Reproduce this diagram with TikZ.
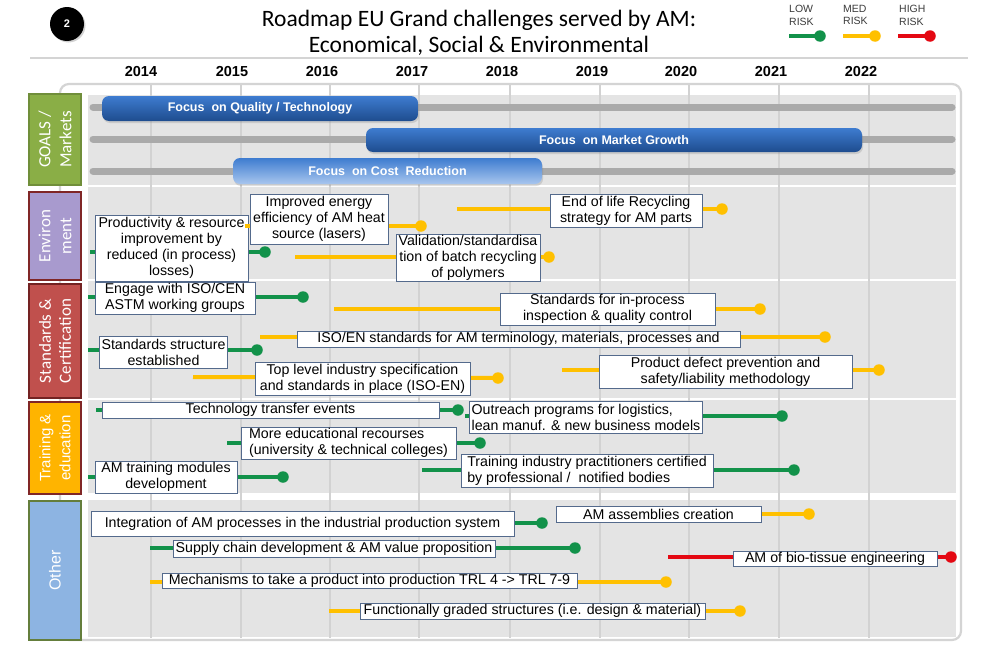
\documentclass[tikz,border=0pt]{standalone}
\usepackage{fontspec}
\setmainfont{Liberation Sans}
\newfontfamily\calf{Carlito}
\usetikzlibrary{shadows}
\definecolor{greenc}{RGB}{18,146,74}
\definecolor{yellowc}{RGB}{255,192,0}
\definecolor{redc}{RGB}{228,8,18}
\definecolor{boxc}{RGB}{84,106,140}
\definecolor{panelc}{RGB}{228,228,228}
\definecolor{gridc}{RGB}{210,210,210}
\definecolor{trackc}{RGB}{170,170,170}
\definecolor{outerc}{RGB}{212,212,212}
\definecolor{goalsf}{RGB}{138,174,70}
\definecolor{goalsd}{RGB}{112,142,58}
\definecolor{envf}{RGB}{168,154,206}
\definecolor{stdf}{RGB}{192,80,77}
\definecolor{trf}{RGB}{255,180,0}
\definecolor{othf}{RGB}{141,180,226}
\definecolor{othd}{RGB}{100,126,60}
\definecolor{darkred}{RGB}{128,38,38}
\definecolor{barA}{RGB}{62,124,208}
\definecolor{barB}{RGB}{30,76,142}
\definecolor{barC}{RGB}{168,198,238}
\definecolor{legtext}{RGB}{60,60,60}
\newcommand\rmtfont{\fontsize{14.2}{16}\selectfont}
\begin{document}
\begin{tikzpicture}[x=1pt,y=-1pt,
  tbox/.style={draw=boxc,line width=0.8pt,fill=white,inner xsep=2pt,inner ysep=0pt,font=\rmtfont,align=center},
  dot/.style={circle,fill=#1,inner sep=0pt,minimum size=11.5pt},
  conn/.style={draw=#1,line width=4pt},
  track/.style={draw=trackc,line width=7pt,line cap=round},
  goalbar/.style={rounded corners=7pt,draw=none,inner sep=0pt,text=white,
    font=\bfseries\fontsize{12.5}{14}\selectfont,
    drop shadow={opacity=0.25,shadow xshift=1pt,shadow yshift=-2pt}},
  seclab/.style={rotate=90,line width=1.8pt,inner sep=0pt,text=white,align=center,minimum height=52pt},
  yearlab/.style={font=\bfseries\fontsize{14.5}{16}\selectfont},
  legt/.style={font=\fontsize{10.5}{12.5}\selectfont,text=legtext,align=left,anchor=north west,inner sep=0pt}
]
\useasboundingbox (0,0) rectangle (992,653);
\fill[white] (0,0) rectangle (992,653);

% number badge
\node[circle,fill=black,minimum size=34pt,inner sep=0pt,
  drop shadow={opacity=0.35,shadow xshift=1.5pt,shadow yshift=-1.5pt},
  font=\bfseries\fontsize{11}{12}\selectfont,text=white] (num) at (67,24) {2};

% title
\node[font=\calf\fontsize{23.5}{26}\selectfont,align=center] (title) at (479,33)
  {Roadmap EU Grand challenges served by AM:\\Economical, Social \& Environmental};

% legend
\node[legt] (lowt) at (789,5) {LOW\\RISK};
\node[legt] (medt) at (843,5) {MED\\RISK};
\node[legt] (hight) at (899,5) {HIGH\\RISK};
\coordinate (lg1) at (789,36); \node[dot=greenc] (lg1d) at (820,36) {};
\draw[conn=greenc] (lg1) -- (lg1d.center);
\coordinate (lg2) at (843,36); \node[dot=yellowc] (lg2d) at (875,36) {};
\draw[conn=yellowc] (lg2) -- (lg2d.center);
\coordinate (lg3) at (898,36); \node[dot=redc] (lg3d) at (930,36) {};
\draw[conn=redc] (lg3) -- (lg3d.center);

% header rule
\draw[draw=outerc,line width=1.5pt] (30,58) -- (968,58);

% years
\foreach \xx/\yr in {141/2014,232/2015,322/2016,412/2017,502/2018,592/2019,681/2020,771/2021,861/2022}
  \node[yearlab] (yr\yr) at (\xx,72) {\yr};

% outer frame
\draw[draw=outerc,line width=2.2pt,rounded corners=9pt,fill=white] (60,84) rectangle (961,640);

% panels
\fill[panelc] (88,95) rectangle (956,185);
\fill[panelc] (88,187) rectangle (956,279);
\fill[panelc] (88,281) rectangle (956,398);
\fill[panelc] (88,400) rectangle (956,493);
\fill[panelc] (88,500) rectangle (956,637);

% grid
\foreach \xx in {151,241,330,419,510,600,689,779,869}
  \draw[draw=gridc,line width=1.8pt] (\xx,85) -- (\xx,638);

% section labels
\node[seclab,fill=goalsf,draw=goalsd,minimum width=91pt,font=\calf\fontsize{17}{21}\selectfont] (lgoals) at (55,139.5) {GOALS /\\Markets};
\node[seclab,fill=envf,draw=darkred,minimum width=88pt,font=\calf\fontsize{17}{21}\selectfont] (lenv) at (55,236) {Environ\\ment};
\node[seclab,fill=stdf,draw=darkred!90!black,minimum width=114pt,font=\calf\fontsize{17}{20}\selectfont] (lstd) at (55,341) {Standards \&\\Certification};
\node[seclab,fill=trf,draw=darkred,minimum width=92pt,font=\fontsize{15}{20}\selectfont] (ltr) at (55,448) {Training \&\\education};
\node[seclab,fill=othf,draw=othd,minimum width=139pt,font=\fontsize{16}{20}\selectfont] (loth) at (55,570.5) {Other};

% goal tracks
\coordinate (tk1s) at (93,107); \coordinate (tk1e) at (952,107);
\coordinate (tk2s) at (93,139); \coordinate (tk2e) at (952,139);
\coordinate (tk3s) at (93,171); \coordinate (tk3e) at (952,171);
\draw[track] (tk1s) -- (tk1e);
\draw[track] (tk2s) -- (tk2e);
\draw[track] (tk3s) -- (tk3e);

% goal bars
\node[goalbar,top color=barA,bottom color=barB,minimum width=316pt,minimum height=25pt] (g1) at (260,108.5) {Focus \ on Quality / Technology};
\node[goalbar,top color=barA,bottom color=barB,minimum width=496pt,minimum height=24pt] (g2) at (614,140) {Focus \ on Market Growth};
\node[goalbar,top color=barA,bottom color=barC,minimum width=309pt,minimum height=26pt] (g3) at (387.5,171) {Focus \ on Cost \ Reduction};

% ---------- Environment ----------
\coordinate (e1s) at (90,252); \node[dot=greenc] (e1d) at (265,252) {};
\draw[conn=greenc] (e1s) -- (e1d.center);
\node[tbox,minimum width=153pt,minimum height=66pt] (e1) at (171.5,248)
  {Productivity \& resource\\improvement by\\reduced (in process)\\losses)};

\coordinate (e2s) at (245,226); \node[dot=yellowc] (e2d) at (421,226) {};
\draw[conn=yellowc] (e2s) -- (e2d.center);
\node[tbox,minimum width=138pt,minimum height=50pt] (e2) at (319,219)
  {Improved energy\\efficiency of AM heat\\source (lasers)};

\coordinate (e3s) at (295,257); \node[dot=yellowc] (e3d) at (549,257) {};
\draw[conn=yellowc] (e3s) -- (e3d.center);
\node[tbox,minimum width=144pt,minimum height=47pt] (e3) at (468,257.5)
  {Validation/standardisa\\tion of batch recycling\\of polymers};

\coordinate (e4s) at (457,209); \node[dot=yellowc] (e4d) at (722,209) {};
\draw[conn=yellowc] (e4s) -- (e4d.center);
\node[tbox,minimum width=152pt,minimum height=33pt] (e4) at (626,210.5)
  {End of life Recycling\\strategy for AM parts};

% ---------- Standards ----------
\coordinate (s1s) at (88,297); \node[dot=greenc] (s1d) at (303,297) {};
\draw[conn=greenc] (s1s) -- (s1d.center);
\node[tbox,minimum width=160pt,minimum height=32pt] (s1) at (175,298)
  {Engage with ISO/CEN\\ASTM working groups};

\coordinate (s2s) at (334,309); \node[dot=yellowc] (s2d) at (760,309) {};
\draw[conn=yellowc] (s2s) -- (s2d.center);
\node[tbox,minimum width=215pt,minimum height=32pt] (s2) at (607.5,309)
  {Standards for in-process\\inspection \& quality control};

\coordinate (s3s) at (260,337); \node[dot=yellowc] (s3d) at (825,337) {};
\draw[conn=yellowc] (s3s) -- (s3d.center);
\node[tbox,minimum width=443pt,minimum height=16pt] (s3) at (518.5,339)
  {ISO/EN standards for AM terminology, materials, processes and};

\coordinate (s4s) at (88,350); \node[dot=greenc] (s4d) at (257,350) {};
\draw[conn=greenc] (s4s) -- (s4d.center);
\node[tbox,minimum width=127pt,minimum height=32pt] (s4) at (163.5,352)
  {Standards structure\\established};

\coordinate (s5s) at (193,377); \node[dot=yellowc] (s5d) at (498,378) {};
\draw[conn=yellowc] (s5s) -- (s5d.center);
\node[tbox,minimum width=215pt,minimum height=33pt] (s5) at (362.5,378.5)
  {Top level industry specification\\and standards in place (ISO-EN)};

\coordinate (s6s) at (562,370); \node[dot=yellowc] (s6d) at (879,370) {};
\draw[conn=yellowc] (s6s) -- (s6d.center);
\node[tbox,minimum width=253pt,minimum height=33pt] (s6) at (725.5,371.5)
  {Product defect prevention and\\safety/liability methodology};

% ---------- Training ----------
\coordinate (t1s) at (96,410); \node[dot=greenc] (t1d) at (458,410) {};
\draw[conn=greenc] (t1s) -- (t1d.center);
\node[tbox,minimum width=337pt,minimum height=16pt] (t1) at (270.5,410)
  {Technology transfer events};

\coordinate (t2s) at (465,416); \node[dot=greenc] (t2d) at (782,416) {};
\draw[conn=greenc] (t2s) -- (t2d.center);
\node[tbox,align=left,minimum width=232pt,minimum height=32pt] (t2) at (586,417)
  {Outreach programs for logistics,\\lean manuf. \& new business models};

\coordinate (t3s) at (227,443); \node[dot=greenc] (t3d) at (480,443) {};
\draw[conn=greenc] (t3s) -- (t3d.center);
\node[tbox,align=left,minimum width=215pt,minimum height=32pt] (t3) at (348.5,443)
  {More educational recourses\\(university \& technical colleges)};

\coordinate (t4s) at (88,477); \node[dot=greenc] (t4d) at (283,477) {};
\draw[conn=greenc] (t4s) -- (t4d.center);
\node[tbox,minimum width=142pt,minimum height=32pt] (t4) at (166,477)
  {AM training modules\\development};

\coordinate (t5s) at (422,470); \node[dot=greenc] (t5d) at (794,470) {};
\draw[conn=greenc] (t5s) -- (t5d.center);
\node[tbox,align=left,minimum width=252pt,minimum height=33pt] (t5) at (587,470.5)
  {Training industry practitioners certified\\by professional / \ notified bodies};

% ---------- Other ----------
\coordinate (o1s) at (95,523); \node[dot=greenc] (o1d) at (542,523) {};
\draw[conn=greenc] (o1s) -- (o1d.center);
\node[tbox,minimum width=423pt,minimum height=25pt] (o1) at (302.5,523.5)
  {Integration of AM processes in the industrial production system};

\coordinate (o2s) at (560,514); \node[dot=yellowc] (o2d) at (809,514) {};
\draw[conn=yellowc] (o2s) -- (o2d.center);
\node[tbox,minimum width=205pt,minimum height=16pt] (o2) at (658.5,514)
  {AM assemblies creation};

\coordinate (o3s) at (150,548); \node[dot=greenc] (o3d) at (575,548) {};
\draw[conn=greenc] (o3s) -- (o3d.center);
\node[tbox,minimum width=322pt,minimum height=17pt] (o3) at (334,548.5)
  {Supply chain development \& AM value proposition};

\coordinate (o4s) at (668,557); \node[dot=redc] (o4d) at (951,557) {};
\draw[conn=redc] (o4s) -- (o4d.center);
\node[tbox,minimum width=204pt,minimum height=15pt] (o4) at (835,558.5)
  {AM of bio-tissue engineering};

\coordinate (o5s) at (150,582); \node[dot=yellowc] (o5d) at (666,582) {};
\draw[conn=yellowc] (o5s) -- (o5d.center);
\node[tbox,minimum width=415pt,minimum height=15pt] (o5) at (369.5,580.5)
  {Mechanisms to take a product into production TRL 4 -> TRL 7-9};

\coordinate (o6s) at (329,611); \node[dot=yellowc] (o6d) at (740,611) {};
\draw[conn=yellowc] (o6s) -- (o6d.center);
\node[tbox,minimum width=345pt,minimum height=16pt] (o6) at (532.5,611)
  {Functionally graded structures (i.e. design \& material)};
\end{tikzpicture}
\end{document}
